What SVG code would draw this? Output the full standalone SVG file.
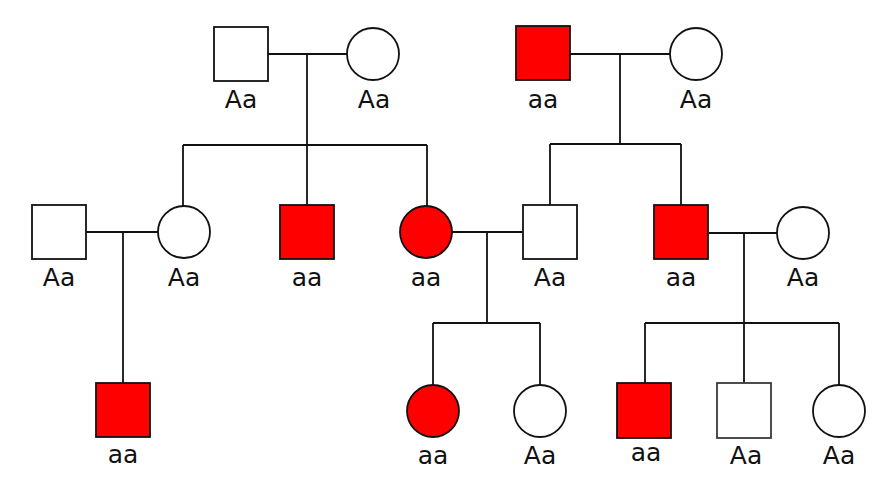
<svg xmlns="http://www.w3.org/2000/svg" width="896" height="484" viewBox="0 0 896 484">
  <style>
    .m { stroke: #111; stroke-width: 1.8; }
    .open { fill: #fff; }
    .aff { fill: #ff0000; }
    .lbl { font-family: "DejaVu Sans", "Liberation Sans", sans-serif; font-size: 25px; fill: #111; text-anchor: middle; }
    .ln { stroke: #111; stroke-width: 1.8; fill: none; }
  </style>
  <rect width="896" height="484" fill="#fff"/>

  <!-- pedigree lines: marriages, descents, sibships -->
  <g id="connectors" class="ln">
    <path d="M268 54H347M307 54V145M183 145H427M183 145V206M307 145V205M427 145V206"/>
    <path d="M570 54H670M620 54V144M550 144H681M550 144V205M681 144V205"/>
    <path d="M86 232H158M123 232V383"/>
    <path d="M452 232H523M487 232V323M433 323H540M433 323V385M540 323V385"/>
    <path d="M709 233H777M744 233V323M645 323H839M645 323V383M744 323V383M839 323V385"/>
  </g>

  <!-- generation I -->
  <g id="I1"><rect class="m open" x="214" y="27" width="54" height="54"/><text class="lbl" x="241" y="108">Aa</text></g>
  <g id="I2"><circle class="m open" cx="373" cy="54" r="26"/><text class="lbl" x="374" y="108">Aa</text></g>
  <g id="I3"><rect class="m aff" x="516" y="26" width="54" height="54"/><text class="lbl" x="543" y="108">aa</text></g>
  <g id="I4"><circle class="m open" cx="696" cy="54" r="26"/><text class="lbl" x="696" y="108">Aa</text></g>

  <!-- generation II -->
  <g id="II1"><rect class="m open" x="32" y="205" width="54" height="54"/><text class="lbl" x="59" y="286">Aa</text></g>
  <g id="II2"><circle class="m open" cx="184" cy="232" r="26"/><text class="lbl" x="184" y="286">Aa</text></g>
  <g id="II3"><rect class="m aff" x="280" y="205" width="54" height="54"/><text class="lbl" x="307" y="286">aa</text></g>
  <g id="II4"><circle class="m aff" cx="426" cy="232" r="26"/><text class="lbl" x="426" y="286">aa</text></g>
  <g id="II5"><rect class="m open" x="523" y="205" width="54" height="54"/><text class="lbl" x="550" y="286">Aa</text></g>
  <g id="II6"><rect class="m aff" x="654" y="205" width="54" height="54"/><text class="lbl" x="681" y="286">aa</text></g>
  <g id="II7"><circle class="m open" cx="803" cy="233" r="26"/><text class="lbl" x="803" y="286">Aa</text></g>

  <!-- generation III -->
  <g id="III1"><rect class="m aff" x="96" y="383" width="54" height="54"/><text class="lbl" x="123" y="463">aa</text></g>
  <g id="III2"><circle class="m aff" cx="433" cy="411" r="26"/><text class="lbl" x="433" y="464">aa</text></g>
  <g id="III3"><circle class="m open" cx="540" cy="411" r="26"/><text class="lbl" x="540" y="464">Aa</text></g>
  <g id="III4"><rect class="m aff" x="617" y="383" width="54" height="55"/><text class="lbl" x="646" y="461">aa</text></g>
  <g id="III5"><rect class="m open" x="717" y="383" width="54" height="55" style="stroke:#3a3a3a"/><text class="lbl" x="746" y="464">Aa</text></g>
  <g id="III6"><circle class="m open" cx="839" cy="411" r="26"/><text class="lbl" x="839" y="464">Aa</text></g>
</svg>
